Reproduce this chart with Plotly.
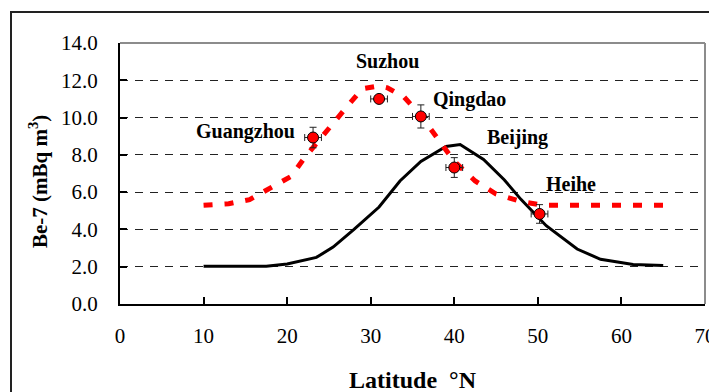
import plotly.graph_objects as go

# Model curve (black solid)
model_lat = [10, 17.5, 20, 23.5, 25.5, 28, 31, 33.5, 36, 39, 40.7, 43.5, 46, 48, 51, 54.7, 57.5, 61.4, 65]
model_be7 = [2.03, 2.03, 2.15, 2.5, 3.05, 4.0, 5.2, 6.6, 7.65, 8.45, 8.55, 7.75, 6.65, 5.6, 4.2, 2.95, 2.4, 2.12, 2.06]

# Fitted / observed trend (red dashed)
trend_lat = [10, 13, 15.5, 18, 20.5, 22, 24.5, 27, 29, 31, 32, 34, 36, 38, 40, 42.5, 45, 48, 50.5, 65]
trend_be7 = [5.3, 5.38, 5.6, 6.25, 6.85, 7.8, 9.2, 10.5, 11.55, 11.7, 11.6, 11.1, 10.1, 8.9, 7.65, 6.6, 5.9, 5.5, 5.3, 5.3]

# Observation sites
sites = ["Guangzhou", "Suzhou", "Qingdao", "Beijing", "Heihe"]
site_lat = [23.1, 31.0, 36.0, 40.0, 50.2]
site_be7 = [8.93, 11.0, 10.06, 7.32, 4.83]
site_err_y = [0.55, 0.15, 0.62, 0.53, 0.5]
site_err_x = [1.0, 1.0, 1.0, 1.0, 1.0]

# Label anchor positions (data coordinates)
label_x = [15.0, 32.0, 41.8, 47.6, 54.0]
label_y = [9.25, 13.05, 10.98, 8.95, 6.45]

x_ticks = [0, 10, 20, 30, 40, 50, 60, 70]
y_ticks = [0, 2, 4, 6, 8, 10, 12, 14]
y_tick_text = ["%.1f" % v for v in y_ticks]

FONT = "Liberation Serif, Times New Roman, serif"

fig = go.Figure()

fig.add_trace(go.Scatter(
    x=model_lat, y=model_be7, mode="lines",
    line=dict(color="black", width=3), hoverinfo="skip", showlegend=False))

fig.add_trace(go.Scatter(
    x=trend_lat, y=trend_be7, mode="lines",
    line=dict(color="#FF0000", width=5, dash="9px,12px"), hoverinfo="skip", showlegend=False))

fig.add_trace(go.Scatter(
    x=site_lat, y=site_be7, mode="markers",
    marker=dict(color="#FF0000", size=11, line=dict(color="black", width=1)),
    error_y=dict(type="data", array=site_err_y, color="#222", thickness=1, width=3.5),
    error_x=dict(type="data", array=site_err_x, color="#222", thickness=1, width=3.5),
    showlegend=False))

for name, lx, ly in zip(sites, label_x, label_y):
    fig.add_annotation(x=lx, y=ly, text="<b>%s</b>" % name, showarrow=False,
                       font=dict(family=FONT, size=20, color="black"),
                       xanchor="center", yanchor="middle")

# plot area top & right border (gray)
fig.add_shape(type="line", xref="paper", yref="paper", x0=0, x1=1, y0=1, y1=1,
              line=dict(color="#8c8c8c", width=2))
fig.add_shape(type="line", xref="paper", yref="paper", x0=1, x1=1, y0=0, y1=1,
              line=dict(color="#8c8c8c", width=2))
# outer chart border
fig.add_shape(type="rect", xref="paper", yref="paper",
              x0=(11 - 120) / 585, x1=(740 - 120) / 585,
              y0=(304 - 420) / 261, y1=(304 - 12) / 261,
              line=dict(color="#222", width=2), fillcolor="rgba(0,0,0,0)")

# the page body adds an 8px offset; margins compensate so the plot area sits at
# x 120..705, y 43..304 in the browser window
fig.update_layout(
    width=717, height=392,
    margin=dict(l=112, r=20, t=35, b=96),
    paper_bgcolor="white", plot_bgcolor="white",
    font=dict(family=FONT, color="black"),
    xaxis=dict(
        range=[0, 70], tickvals=x_ticks, ticks="inside", ticklen=7, tickwidth=1.5,
        tickcolor="black", showline=True, linecolor="black", linewidth=2,
        showgrid=False, zeroline=False, automargin=False,
        tickfont=dict(family=FONT, size=21, color="black"),
        ticklabelstandoff=12,
        title=dict(text="<b>Latitude  °N</b>", font=dict(family=FONT, size=24, color="black"),
                   standoff=24),
    ),
    yaxis=dict(
        range=[0, 14], tickvals=y_ticks, ticktext=y_tick_text, ticks="inside", ticklen=7,
        tickwidth=1.5, tickcolor="black", showline=True, linecolor="black", linewidth=2,
        showgrid=True, gridcolor="#222", gridwidth=1, griddash="8px,7px", zeroline=False,
        automargin=False,
        tickfont=dict(family=FONT, size=21, color="black"),
        ticklabelstandoff=16,
        title=dict(text="<b>Be-7 (mBq m<sup>3</sup>)</b>&nbsp;&nbsp;&nbsp;",
                   font=dict(family=FONT, size=21, color="black"),
                   standoff=8),
    ),
)

fig.write_html("out.html")
